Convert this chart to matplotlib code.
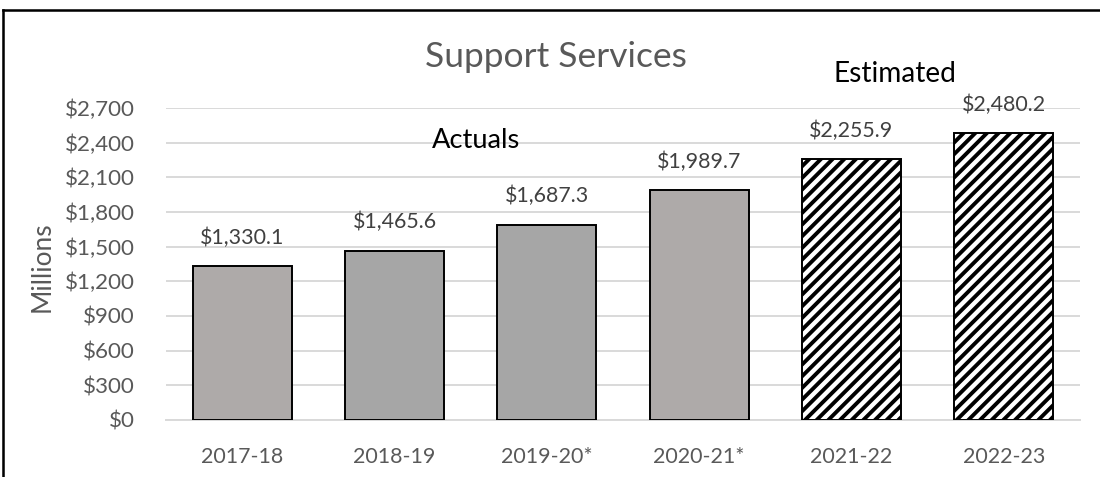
import matplotlib
matplotlib.use("Agg")
import matplotlib.pyplot as plt
from matplotlib.lines import Line2D
from matplotlib.ticker import FuncFormatter

# Данные
years = ["2017-18", "2018-19", "2019-20*", "2020-21*", "2021-22", "2022-23"]
values = [1330.1, 1465.6, 1687.3, 1989.7, 2255.9, 2480.2]
estimated = [False, False, False, False, True, True]
fill_colors = ["#AEAAA9", "#A6A6A6", "#A6A6A6", "#AEAAA9", "white", "white"]

plt.rcParams["font.family"] = ["Lato", "DejaVu Sans"]
plt.rcParams["hatch.linewidth"] = 2.0
plt.rcParams["hatch.color"] = "black"

dpi = 140
fig = plt.figure(figsize=(1100 / dpi, 477 / dpi), dpi=dpi)
ax = fig.add_axes([166 / 1100, 57 / 477, 914 / 1100, 312 / 477])

x = range(len(years))
bars = ax.bar(x, values, width=0.65, color=fill_colors, edgecolor="black",
              linewidth=1.0, zorder=3)
for b, est in zip(bars, estimated):
    if est:
        b.set_hatch("////")

# подписи значений
for b, v in zip(bars, values):
    ax.annotate(f"${v:,.1f}", (b.get_x() + b.get_width() / 2, v),
                xytext=(0, 9.5), textcoords="offset points",
                ha="center", va="bottom", fontsize=11, color="#404040")

ax.set_xlim(-0.5, len(years) - 0.5)
ax.set_ylim(0, 2700)
ax.set_yticks(range(0, 2701, 300))
ax.yaxis.set_major_formatter(FuncFormatter(lambda v, p: f"${v:,.0f}"))
ax.set_xticks(list(x))
ax.set_xticklabels(years)
ax.tick_params(axis="both", length=0, labelsize=11.5, labelcolor="#595959")
ax.tick_params(axis="x", labelsize=11, pad=14)
ax.tick_params(axis="y", pad=16)
ax.grid(axis="y", color="#D9D9D9", linewidth=1.0, zorder=0)
for s in ["top", "right", "left"]:
    ax.spines[s].set_visible(False)
ax.spines["bottom"].set_color("#D9D9D9")
ax.spines["bottom"].set_linewidth(1.0)

ax.set_ylabel("Millions", fontsize=13.5, color="#595959")
ax.yaxis.set_label_coords(-111 / 914, (420 - 267) / 312)

fig.text(556 / 1100, 1 - 57 / 477, "Support Services", ha="center", va="center",
         fontsize=18.2, color="#595959")
fig.text(895 / 1100, 1 - 74 / 477, "Estimated", ha="center", va="center",
         fontsize=14.4, color="black")
fig.text(476 / 1100, 1 - 141 / 477, "Actuals", ha="center", va="center",
         fontsize=14, color="black")

# рамка диаграммы (только сверху и слева)
fig.add_artist(Line2D([3 / 1100, 1.0], [1 - 10 / 477] * 2, color="black",
                      linewidth=1.3, transform=fig.transFigure))
fig.add_artist(Line2D([3 / 1100] * 2, [0, 1 - 10 / 477], color="black",
                      linewidth=1.3, transform=fig.transFigure))

plt.savefig("out.png", dpi=dpi)
